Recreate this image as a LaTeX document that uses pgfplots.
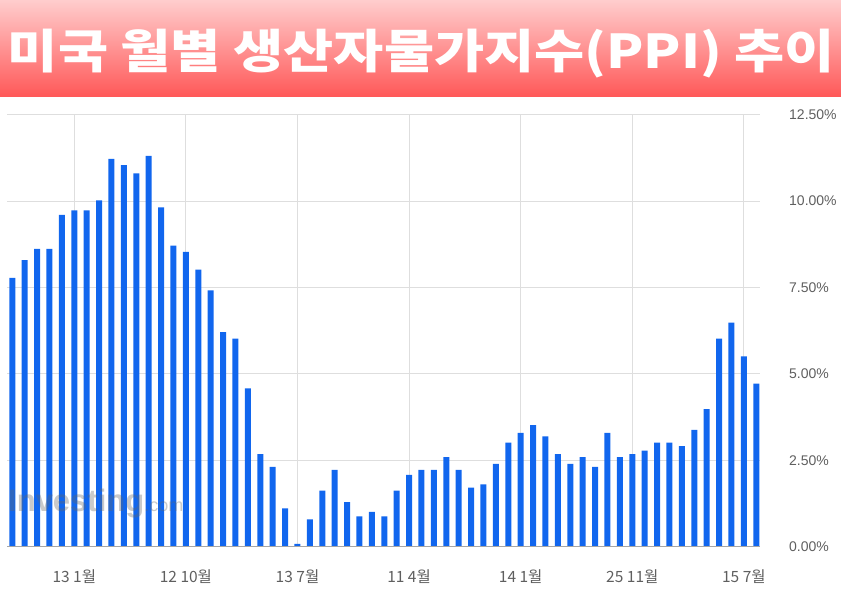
\documentclass[border=0pt]{standalone}
\usepackage{pgfplots}
\pgfplotsset{compat=1.18}
\usepackage{fontspec}
\setmainfont{Liberation Sans}
\newfontfamily\kr{Noto Sans CJK KR}
\definecolor{barblue}{RGB}{17,102,238}
\definecolor{gridgray}{RGB}{222,222,222}
\definecolor{ticktext}{RGB}{95,95,95}
\definecolor{bantop}{RGB}{255,205,205}
\definecolor{banbot}{RGB}{255,88,88}
\begin{document}
\begin{tikzpicture}
\path[use as bounding box] (0,0) rectangle (841bp,595bp);
\shade[top color=bantop, bottom color=banbot] (0,498.3bp) rectangle (841bp,595bp);
\node[text=white, inner sep=0pt] at (421.5bp,541.5bp) {\resizebox*{827bp}{49bp}{\kr\bfseries\fontsize{52bp}{52bp}\selectfont 미국 월별 생산자물가지수(PPI) 추이}};
\begin{axis}[
  at={(7bp,48.3bp)}, anchor=south west,
  scale only axis, width=753bp, height=432bp,
  xmin=0.573, xmax=61.3, ymin=0, ymax=12.5,
  axis line style={draw=none},
  major tick length=0pt,
  xtick={6,15,24,33,42,51,60},
  xticklabels={13 1월,12 10월,13 7월,11 4월,14 1월,25 11월,15 7월},
  xticklabel style={anchor=center, inner sep=0pt, yshift=-30bp, font=\kr\fontsize{15.5bp}{16bp}\selectfont, text=ticktext},
  ytick={0,2.5,5,7.5,10,12.5},
  yticklabel pos=right,
  yticklabel={\pgfmathprintnumber[fixed,fixed zerofill,precision=2]{\tick}\%},
  /pgf/number format/assume math mode=true,
  yticklabel style={anchor=west, inner sep=0pt, xshift=29bp, font=\fontsize{14bp}{14bp}\selectfont, text=ticktext},
  xmajorgrids, ymajorgrids,
  grid style={gridgray, line width=0.8pt},
  ybar, bar width=6bp, bar shift=0pt,
  clip=false,
]
\addplot[fill=barblue, draw=none] coordinates {
(1,7.78) (2,8.29) (3,8.62) (4,8.62) (5,9.60) (6,9.73) (7,9.73) (8,10.02) (9,11.22) (10,11.04)
(11,10.80) (12,11.31) (13,9.82) (14,8.71) (15,8.53) (16,8.02) (17,7.42) (18,6.21) (19,6.02) (20,4.58)
(21,2.68) (22,2.31) (23,1.11) (24,0.08) (25,0.79) (26,1.62) (27,2.22) (28,1.29) (29,0.88) (30,1.01)
(31,0.88) (32,1.62) (33,2.08) (34,2.22) (35,2.22) (36,2.59) (37,2.22) (38,1.71) (39,1.80) (40,2.40)
(41,3.01) (42,3.29) (43,3.52) (44,3.19) (45,2.68) (46,2.40) (47,2.59) (48,2.31) (49,3.29) (50,2.59)
(51,2.68) (52,2.78) (53,3.01) (54,3.01) (55,2.91) (56,3.38) (57,3.98) (58,6.02) (59,6.48) (60,5.51)
(61,4.72)
};
\draw[gray!70, line width=0.8pt] (rel axis cs:0,0) -- (rel axis cs:1,0);
\end{axis}
\node[anchor=base west, inner sep=0pt, text=gray!80!black, opacity=0.35] at (8bp,83bp) {\bfseries\fontsize{31bp}{31bp}\selectfont Investing\mdseries\fontsize{18bp}{18bp}\selectfont.com};
\end{tikzpicture}
\end{document}
